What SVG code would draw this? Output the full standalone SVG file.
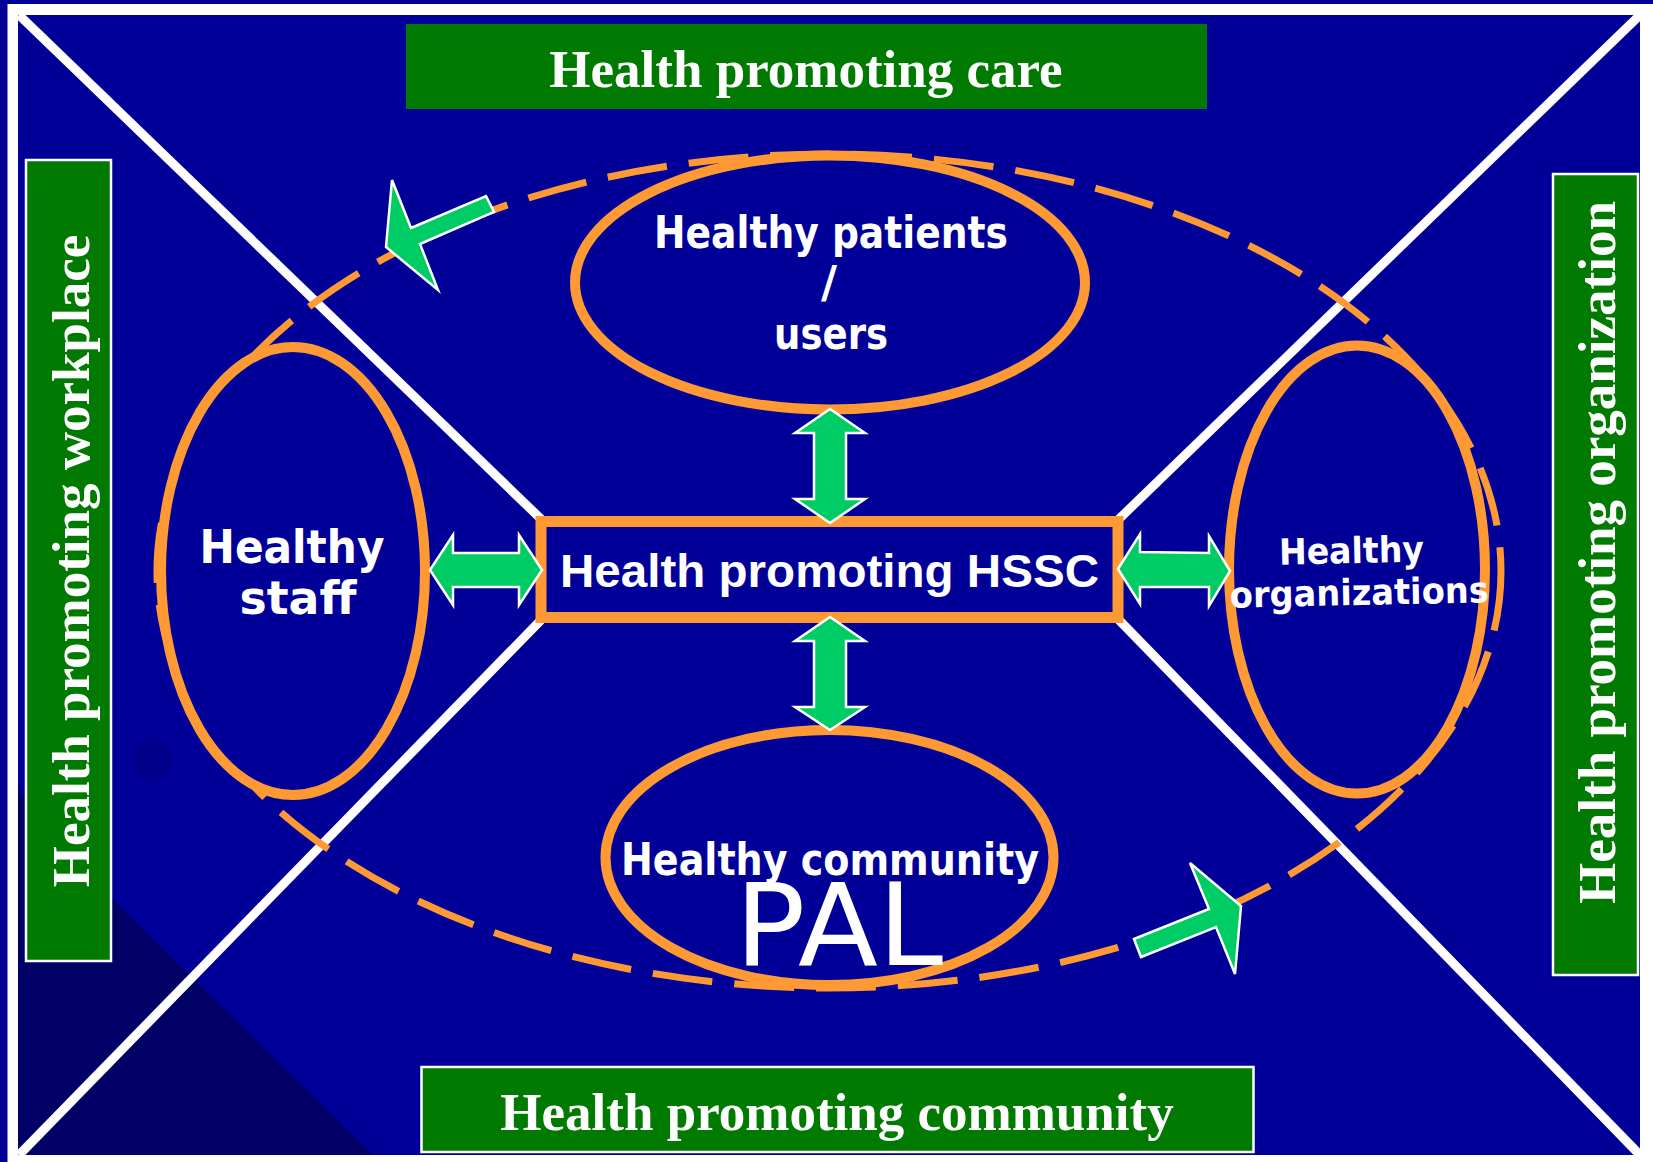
<svg xmlns="http://www.w3.org/2000/svg" width="1653" height="1162" viewBox="0 0 1653 1162">
<defs>
<style>
.bg{fill:#000099}
.diag{stroke:#ffffff;stroke-width:9;fill:none}
.ell{fill:#000099;stroke:#FF9933;stroke-width:10}
.dash{fill:none;stroke:#FF9933;stroke-width:7;stroke-dasharray:60 22}
.arrow{fill:#00CC66;stroke:#ffffff;stroke-width:2.5;stroke-linejoin:miter}
.box{fill:#007A00}
.boxb{fill:#007A00;stroke:#ffffff;stroke-width:2.5}
.title{font-family:"Liberation Serif","Times New Roman",serif;font-weight:bold;font-size:53px;fill:#ffffff}
.lbl{font-family:"DejaVu Sans",Verdana,sans-serif;font-weight:bold;fill:#ffffff;text-anchor:middle}
.hssc{font-family:"Liberation Sans",Arial,sans-serif;font-weight:bold;font-size:47px;fill:#ffffff;text-anchor:middle}
</style>
</defs>
<g id="background">
<rect x="0" y="0" width="1653" height="1162" class="bg"/>
<rect x="7.5" y="4" width="1646" height="1158" fill="#ffffff"/>
<rect x="18" y="15" width="1622" height="1140" class="bg"/>
<polygon points="18,790 60,835 110,897 373,1155 18,1155" fill="#000066"/>
<circle cx="153" cy="760" r="19" fill="#00008a"/>
</g>
<g id="diagonals">
<line x1="19" y1="15" x2="541" y2="519" class="diag"/>
<line x1="1640" y1="15" x2="1119" y2="519" class="diag"/>
<line x1="19" y1="1155" x2="541" y2="620" class="diag"/>
<line x1="1640" y1="1155" x2="1119" y2="620" class="diag"/>
</g>
<g id="cycle">
<ellipse cx="829" cy="571" rx="672" ry="417" class="dash"/>
</g>
<g id="node-patients">
<ellipse cx="830" cy="282.5" rx="255" ry="127" class="ell"/>
<text class="lbl" x="831" y="248" font-size="44" textLength="354" lengthAdjust="spacingAndGlyphs">Healthy patients</text>
<text class="lbl" x="829" y="298" font-size="44">/</text>
<text class="lbl" x="831" y="349" font-size="44" textLength="114" lengthAdjust="spacingAndGlyphs">users</text>
</g>
<g id="node-staff">
<ellipse cx="293" cy="571" rx="132" ry="224" class="ell"/>
<text class="lbl" x="292" y="563" font-size="46" textLength="185" lengthAdjust="spacingAndGlyphs">Healthy</text>
<text class="lbl" x="298" y="614" font-size="46" textLength="117" lengthAdjust="spacingAndGlyphs">staff</text>
</g>
<g id="node-organizations">
<ellipse cx="1357" cy="569.5" rx="128" ry="224" class="ell"/>
<g transform="rotate(-1.2 1358 580)">
<text class="lbl" x="1352" y="563" font-size="36" textLength="145" lengthAdjust="spacingAndGlyphs">Healthy</text>
<text class="lbl" x="1359" y="605" font-size="36" textLength="259" lengthAdjust="spacingAndGlyphs">organizations</text>
</g>
</g>
<g id="node-community">
<ellipse cx="829.5" cy="857.5" rx="224" ry="127.5" class="ell"/>
<text class="lbl" x="830" y="875" font-size="44" textLength="418" lengthAdjust="spacingAndGlyphs">Healthy community</text>
<text x="839" y="965" font-family="'DejaVu Sans',Verdana,sans-serif" font-size="114" fill="#ffffff" text-anchor="middle" textLength="208" lengthAdjust="spacingAndGlyphs">PAL</text>
</g>
<g id="node-hssc">
<rect x="541" y="521.5" width="577" height="96" fill="#000099" stroke="#FF9933" stroke-width="11"/>
<text class="hssc" x="829.5" y="587" textLength="539" lengthAdjust="spacingAndGlyphs">Health promoting HSSC</text>
</g>
<g id="connectors">
<polygon class="arrow" points="830,409 865,433 846,433 846,499 865,499 830,523 795,499 814,499 814,433 795,433"/>
<polygon class="arrow" points="830,617 865,641 846,641 846,707 865,707 830,730 795,707 814,707 814,641 795,641"/>
<polygon class="arrow" points="430,570 453,535 453,553 519,553 519,535 542,570 519,605 519,587 453,587 453,605"/>
<polygon class="arrow" points="1118,569 1140,534 1140,552 1209,553 1209,536 1230,571 1209,606 1209,587 1140,587 1140,604"/>
<polygon class="arrow" points="386,247 392,180 411,228 486,196 494,212 420,244 438,290"/>
<polygon class="arrow" points="1134,939 1209,909 1190,863 1241,906 1235,974 1216,927 1141,957"/>
</g>
<g id="title-care">
<rect x="406" y="24" width="801" height="85" class="box"/>
<text class="title" x="806" y="87" text-anchor="middle">Health promoting care</text>
</g>
<g id="title-community">
<rect x="421.5" y="1067" width="832" height="85" class="boxb"/>
<text class="title" x="837" y="1130" text-anchor="middle">Health promoting community</text>
</g>
<g id="title-workplace">
<rect x="26" y="160" width="85" height="801" class="boxb"/>
<text class="title" transform="translate(89,561) rotate(-90)" x="0" y="0" text-anchor="middle">Health promoting workplace</text>
</g>
<g id="title-organization">
<rect x="1553" y="174" width="85" height="801" class="boxb"/>
<text class="title" transform="translate(1615,552.5) rotate(-90)" x="0" y="0" text-anchor="middle">Health promoting organization</text>
</g>
</svg>
